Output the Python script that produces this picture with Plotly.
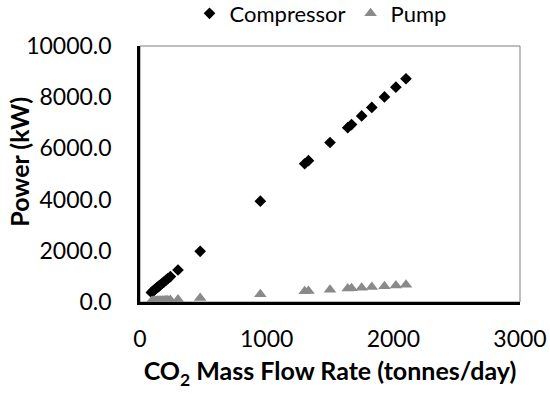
import plotly.graph_objects as go

flow = [90, 100, 110, 120, 130, 140, 150, 160, 175, 190, 205, 220, 240, 300, 475, 950,
        1300, 1330, 1500, 1640, 1670, 1750, 1830, 1930, 2020, 2100]
compressor = [375, 415, 455, 500, 540, 580, 620, 665, 725, 790, 850, 915, 995, 1250, 1980, 3940,
              5400, 5520, 6230, 6810, 6930, 7270, 7600, 8010, 8390, 8720]
pump = [30, 32, 35, 38, 42, 45, 48, 51, 56, 61, 66, 70, 77, 96, 152, 305,
        416, 426, 480, 525, 534, 560, 586, 618, 646, 672]

FONT = "Lato"
fig = go.Figure()
fig.add_trace(go.Scatter(x=flow, y=compressor, mode="markers", name="Compressor",
                         marker=dict(symbol="diamond", size=9, color="black")))
fig.add_trace(go.Scatter(x=flow, y=pump, mode="markers", name="Pump",
                         marker=dict(symbol="triangle-up", size=11, color="#8a8a8a")))

fig.update_layout(
    width=550, height=394,
    margin=dict(l=139.5, r=29.5, t=45.5, b=91.5, autoexpand=False),
    paper_bgcolor="white", plot_bgcolor="white",
    font=dict(family=FONT, size=23, color="black"),
    showlegend=True,
    legend=dict(orientation="h", x=0.475, xanchor="center", y=1.127, yanchor="middle",
                font=dict(size=22), itemwidth=30, tracegroupgap=0, bgcolor="rgba(0,0,0,0)"),
    xaxis=dict(range=[0, 3000], dtick=1000, tick0=0, showgrid=False, zeroline=False,
               showline=True, linecolor="black", linewidth=2.5, ticks="", automargin=False,
               ticklabelstandoff=15,
               title=dict(text="<b>CO<sub>2</sub> Mass Flow Rate (tonnes/day)</b>", standoff=12,
                          font=dict(size=25))),
    yaxis=dict(range=[0, 10000], dtick=2000, tick0=0, tickformat=".1f", showgrid=False,
               zeroline=False, showline=True, linecolor="black", linewidth=2.5, ticks="",
               automargin=False, ticklabelstandoff=21),
    annotations=[dict(text="<b>Power (kW)</b>", xref="paper", yref="paper",
                      x=-0.319, y=0.547, xanchor="center", yanchor="middle",
                      textangle=-90, showarrow=False, font=dict(size=25))],
    shapes=[dict(type="rect", xref="x domain", yref="y domain", x0=0, x1=1, y0=0, y1=1,
                 line=dict(color="#7f7f7f", width=1), layer="below")],
)
fig.write_html("out.html")
